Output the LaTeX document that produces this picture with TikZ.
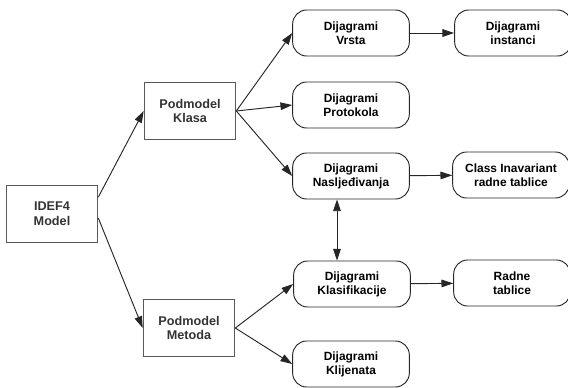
\documentclass[tikz,border=0pt]{standalone}
\usepackage{fontspec}
\setmainfont{Liberation Sans}
\usepackage{xcolor}
\usetikzlibrary{arrows.meta,positioning}

\begin{document}
\begin{tikzpicture}[x=0.03cm, y=-0.03cm,
		model/.style={rectangle, draw=black!65, line width=0.8pt, minimum width=2.75cm, minimum height=1.72cm, align=center, font=\bfseries\fontsize{10.8}{12.5}\selectfont, text=black!80},
		diag/.style={rectangle, rounded corners=0.42cm, draw=black!85, line width=0.8pt, minimum width=3.5cm, minimum height=1.38cm, align=center, font=\bfseries\fontsize{10.2}{11.8}\selectfont},
		arr/.style={-{Triangle[length=10pt,width=6.5pt]}, line width=0.8pt, draw=black!85}]
				\useasboundingbox (0,0) rectangle (568,387);
				\node[model] (idef) at (52,214) {IDEF4\\Model};
				\node[model] (klasa) at (190,111) {Podmodel\\Klasa};
				\node[model] (metoda) at (189,328) {Podmodel\\Metoda};
				
				\node[diag] (vrsta) at (351,33) {Dijagrami\\Vrsta};
				\node[diag] (inst) at (513,33) {Dijagrami\\instanci};
				\node[diag] (prot) at (351,105) {Dijagrami\\Protokola};
				\node[diag] (nasl) at (351,176) {Dijagrami\\Nasljeđivanja};
				\node[diag] (classinv) at (511,175) {Class Inavariant\\radne tablice};
				\node[diag] (klasif) at (352,284) {Dijagrami\\Klasifikacije};
				\node[diag] (radne) at (512,283) {Radne\\tablice};
				\node[diag] (klij) at (351,364) {Dijagrami\\Klijenata};
				
				\draw[arr] (idef.20) -- (klasa.west);
				\draw[arr] (idef.-5) -- (metoda.west);
				\draw[arr] (klasa.east) -- (vrsta.west);
				\draw[arr] (klasa.east) -- (prot.west);
				\draw[arr] (klasa.east) -- (nasl.west);
				\draw[arr] (metoda.east) -- (klasif.west);
				\draw[arr] (metoda.east) -- (klij.west);
				\draw[arr] (vrsta) -- (inst);
				\draw[arr] (nasl) -- (classinv);
				\draw[arr] (klasif) -- (radne);
				\draw[arr, {Triangle[length=10pt,width=6.5pt]}-{Triangle[length=10pt,width=6.5pt]}] ([xshift=-0.42cm]nasl.south) -- ([xshift=-0.45cm]klasif.north);
			\end{tikzpicture}
\end{document}
